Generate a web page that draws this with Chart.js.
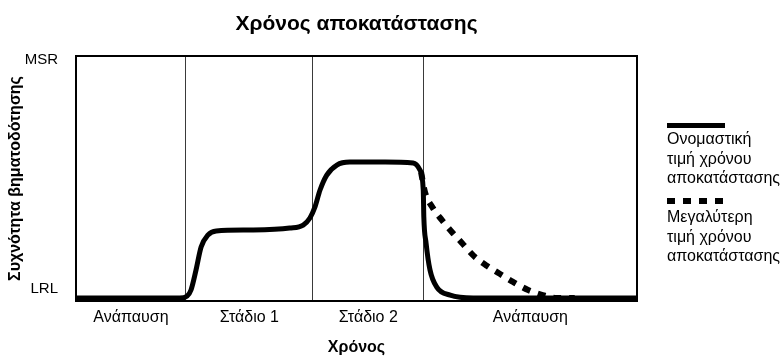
<!DOCTYPE html>
<html>
<head>
<meta charset="utf-8">
<script src="https://cdn.jsdelivr.net/npm/chart.js@4/dist/chart.umd.min.js"></script>
<style>
html,body{margin:0;padding:0;background:#fff;}
#wrap{position:relative;width:780px;height:356px;overflow:hidden;font-family:"Liberation Sans",Arial,sans-serif;}
canvas{position:absolute;left:0;top:0;}
.lg{position:absolute;left:667px;font-size:16px;line-height:19.5px;color:#000;white-space:nowrap;}
.sw{position:absolute;left:667px;width:58px;}
</style>
</head>
<body>
<div id="wrap">
<canvas id="c" width="780" height="356"></canvas>
<div class="sw" style="top:123px;height:5px;background:#000;"></div>
<div class="lg" id="lg1" style="top:129px;"></div>
<div class="sw" style="top:198px;height:6px;background:repeating-linear-gradient(90deg,#000 0 8px,transparent 8px 16px);"></div>
<div class="lg" id="lg2" style="top:207px;"></div>
</div>
<script>
// ---- data ----
const chartTitle = 'Χρόνος αποκατάστασης';
const xAxisTitle = 'Χρόνος';
const yAxisTitle = 'Συχνότητα βηματοδότησης';
const phaseLabels = ['Ανάπαυση', 'Στάδιο 1', 'Στάδιο 2', 'Ανάπαυση'];
const phaseBounds = [0, 19.6, 42.2, 62.0, 100];
const yTickLabels = ['LRL', 'MSR'];
const yTickValues = [4.9, 98.4];
const seriesNames = ['Ονομαστική\nτιμή χρόνου\nαποκατάστασης', 'Μεγαλύτερη\nτιμή χρόνου\nαποκατάστασης'];

const nominalX = [0, 18.5, 19.8, 20.5, 21.4, 22.3, 23.5, 25.0, 31.0, 38.1, 40.5, 41.7, 42.6, 43.5, 44.7, 46.5, 48.8, 55.1, 60.1, 61.3, 61.9, 62.0, 62.4, 63.1, 64.3, 66.7, 70.8, 100];
const nominalY = [1.2, 1.2, 2.0, 4.5, 12.7, 22.0, 26.9, 28.6, 29.0, 29.8, 31.0, 33.9, 38.4, 45.3, 51.4, 55.5, 56.7, 56.7, 56.3, 53.5, 45.3, 34.3, 23.7, 12.7, 5.7, 2.4, 1.2, 1.2];

const longerX = [61.5, 62.2, 63.6, 65.2, 67.0, 68.8, 70.9, 73.3, 75.6, 77.9, 80.6, 83.2, 85.7, 88.9];
const longerY = [52.7, 44.5, 38.0, 33.1, 28.2, 23.7, 18.4, 14.3, 11.0, 7.8, 4.5, 2.4, 1.2, 1.2];

// ---- legend text ----
document.getElementById('lg1').innerHTML = seriesNames[0].split('\n').join('<br>');
document.getElementById('lg2').innerHTML = seriesNames[1].split('\n').join('<br>');

const FONT = '"Liberation Sans", Arial, sans-serif';
const toPts = (xs, ys) => xs.map((x, i) => ({x: x, y: ys[i]}));
const mids = phaseLabels.map((_, i) => (phaseBounds[i] + phaseBounds[i + 1]) / 2);

new Chart(document.getElementById('c'), {
  type: 'line',
  data: {
    datasets: [
      {
        label: seriesNames[0],
        data: toPts(nominalX, nominalY),
        borderColor: '#000',
        borderWidth: 5,
        pointRadius: 0,
        cubicInterpolationMode: 'monotone',
        fill: false,
        xAxisID: 'x', yAxisID: 'y'
      },
      {
        label: seriesNames[1],
        data: toPts(longerX, longerY),
        borderColor: '#000',
        borderWidth: 6,
        borderDash: [8, 8],
        borderCapStyle: 'butt',
        pointRadius: 0,
        cubicInterpolationMode: 'monotone',
        fill: false,
        xAxisID: 'x', yAxisID: 'y'
      }
    ]
  },
  options: {
    responsive: false,
    animation: false,
    layout: {padding: {left: 0, right: 143, top: 0, bottom: 0}},
    plugins: {legend: {display: false}, tooltip: {enabled: false}, title: {display: false}},
    scales: {
      x: {
        type: 'linear', position: 'bottom', min: 0, max: 100,
        afterBuildTicks: s => { s.ticks = mids.map(v => ({value: v})); },
        afterFit: s => { s.height = 55; },
        ticks: {
          callback: (v, i) => phaseLabels[i],
          color: '#000', font: {family: FONT, size: 16}, padding: 7, maxRotation: 0, autoSkip: false
        },
        grid: {display: false, drawTicks: false},
        border: {display: true, color: '#000', width: 2},
        title: {display: true, text: xAxisTitle, color: '#000', font: {family: FONT, size: 16, weight: 'bold', lineHeight: 1}, padding: {top: 0, bottom: 0}}
      },
      x2: {
        type: 'linear', position: 'top', min: 0, max: 100,
        afterBuildTicks: s => { s.ticks = phaseBounds.slice(1, -1).map(v => ({value: v})); },
        afterFit: s => { s.height = 56; },
        ticks: {display: false},
        grid: {display: true, drawOnChartArea: true, drawTicks: false, color: '#3a3a3a', lineWidth: 1},
        border: {display: true, color: '#000', width: 2},
        title: {display: true, text: chartTitle, color: '#000', font: {family: FONT, size: 21, weight: 'bold'}, padding: {top: 12, bottom: 0}}
      },
      y: {
        type: 'linear', position: 'left', min: 0, max: 100,
        afterBuildTicks: s => { s.ticks = yTickValues.map(v => ({value: v})); },
        afterFit: s => { s.width = 76; },
        ticks: {
          callback: (v, i) => yTickLabels[i],
          color: '#000', font: {family: FONT, size: 15}, padding: 18
        },
        grid: {display: false, drawTicks: false},
        border: {display: true, color: '#000', width: 2},
        title: {display: true, text: yAxisTitle, color: '#000', font: {family: FONT, size: 16, weight: 'bold'}, padding: {top: 6, bottom: 0}}
      },
      y2: {
        type: 'linear', position: 'right', min: 0, max: 100,
        afterFit: s => { s.width = 0; },
        ticks: {display: false},
        grid: {display: false, drawTicks: false},
        border: {display: true, color: '#000', width: 2}
      }
    }
  }
});
</script>
</body>
</html>
